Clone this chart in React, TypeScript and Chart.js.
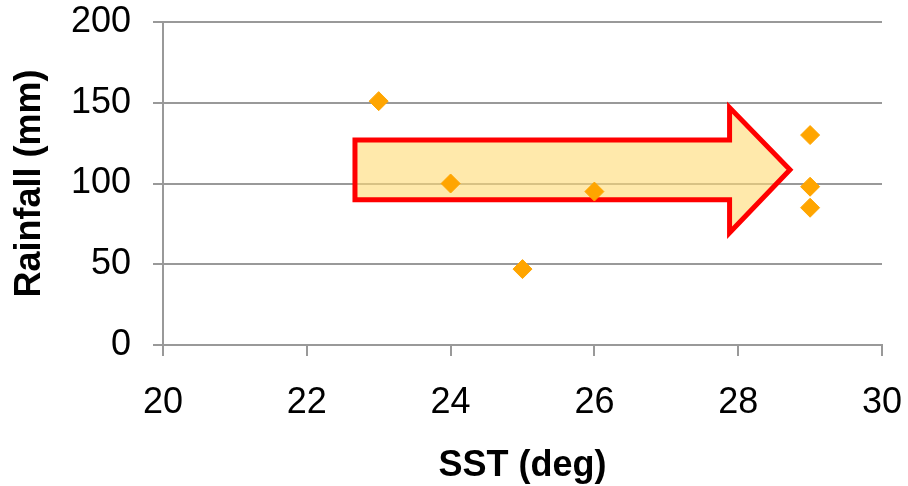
import React, { useEffect, useRef } from "react";
import { Chart, registerables } from "chart.js";

Chart.register(...registerables);

const sstValues = [23, 24, 25, 26, 29, 29, 29];
const rainfallValues = [151, 100, 47, 95, 130, 98, 85];

const xTicks = [20, 22, 24, 26, 28, 30];
const yTicks = [0, 50, 100, 150, 200];

// arrow annotation outline in data units: [x, y]
const arrowPoints: [number, number][] = [
  [22.67, 127],
  [27.88, 127],
  [27.88, 147],
  [28.72, 108.5],
  [27.88, 69.5],
  [27.88, 90],
  [22.67, 90],
];

const FONT = "'Liberation Sans', Arial, sans-serif";
const GRID = "#999999";

const arrowPlugin = {
  id: "arrowShape",
  beforeDatasetsDraw(chart: any) {
    const { ctx, scales } = chart;
    const xs = scales.x;
    const ys = scales.y;
    ctx.save();
    ctx.beginPath();
    arrowPoints.forEach(([vx, vy], i) => {
      const px = xs.getPixelForValue(vx);
      const py = ys.getPixelForValue(vy);
      if (i === 0) ctx.moveTo(px, py);
      else ctx.lineTo(px, py);
    });
    ctx.closePath();
    ctx.fillStyle = "rgba(255, 220, 120, 0.62)";
    ctx.fill();
    ctx.lineWidth = 5;
    ctx.lineJoin = "miter";
    ctx.strokeStyle = "#FF0000";
    ctx.stroke();
    ctx.restore();
  },
};

export default function App() {
  const ref = useRef<HTMLCanvasElement | null>(null);

  useEffect(() => {
    if (!ref.current) return;
    const chart = new Chart(ref.current, {
      type: "scatter",
      data: {
        datasets: [
          {
            label: "Rainfall",
            data: sstValues.map((x, i) => ({ x, y: rainfallValues[i] })),
            pointStyle: "rectRot",
            pointRadius: 9.5,
            pointHoverRadius: 9.5,
            backgroundColor: "#FFA500",
            borderColor: "#FFA500",
            borderWidth: 1,
          },
        ],
      },
      options: {
        responsive: false,
        animation: false,
        layout: { padding: { top: 22, right: 26, left: 0, bottom: 0 } },
        plugins: {
          legend: { display: false },
          tooltip: { enabled: false },
        },
        scales: {
          x: {
            type: "linear",
            min: 20,
            max: 30,
            afterBuildTicks: (scale: any) => {
              scale.ticks = xTicks.map((v) => ({ value: v }));
            },
            afterFit: (scale: any) => {
              scale.height = 141;
              scale.paddingLeft = 0;
              scale.paddingRight = 0;
            },
            grid: {
              display: true,
              drawOnChartArea: false,
              drawTicks: true,
              tickLength: 11,
              color: GRID,
              lineWidth: 2,
            },
            border: { display: true, color: GRID, width: 2 },
            ticks: {
              color: "#000",
              font: { family: FONT, size: 36 },
              padding: 25,
              maxRotation: 0,
            },
            title: {
              display: true,
              text: "SST (deg)",
              color: "#000",
              font: { family: FONT, size: 36, weight: "bold" },
              padding: { top: 0, bottom: -2 },
            },
          },
          y: {
            type: "linear",
            min: 0,
            max: 200,
            afterBuildTicks: (scale: any) => {
              scale.ticks = yTicks.map((v) => ({ value: v }));
            },
            afterFit: (scale: any) => {
              scale.width = 163;
              scale.paddingTop = 0;
              scale.paddingBottom = 0;
            },
            grid: {
              display: true,
              drawOnChartArea: true,
              drawTicks: true,
              tickLength: 10,
              color: GRID,
              lineWidth: 2,
            },
            border: { display: true, color: GRID, width: 2 },
            ticks: {
              color: "#000",
              font: { family: FONT, size: 36 },
              padding: 22,
            },
            title: {
              display: true,
              text: "Rainfall (mm)",
              color: "#000",
              font: { family: FONT, size: 36, weight: "bold" },
              padding: { top: 8, bottom: 0 },
            },
          },
        },
      },
      plugins: [arrowPlugin],
    } as any);
    return () => chart.destroy();
  }, []);

  return (
    <div style={{ position: "fixed", left: 0, top: 0, width: 908, height: 486, background: "#fff" }}>
      <canvas ref={ref} width={908} height={486} style={{ display: "block" }} />
    </div>
  );
}
